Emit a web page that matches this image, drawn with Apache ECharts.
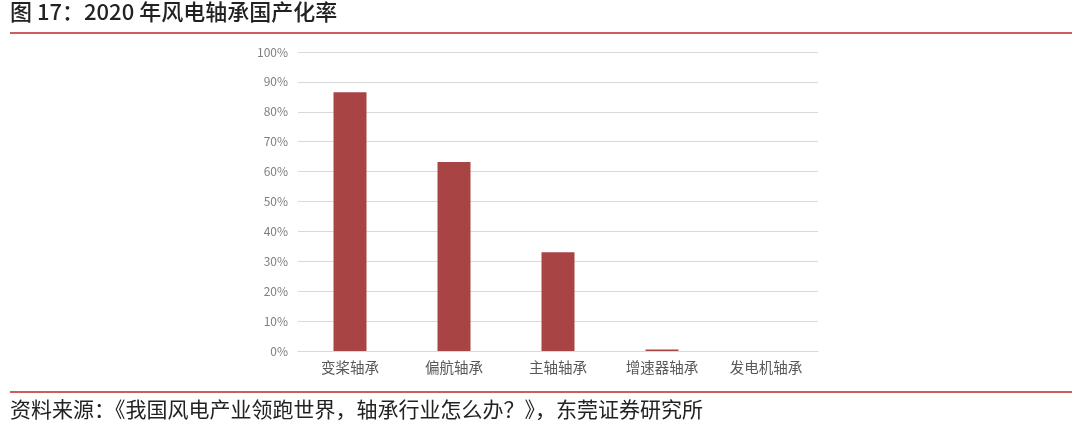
<!DOCTYPE html>
<head>
    <meta charset="utf-8">
    <title>2020 年风电轴承国产化率</title>
    <script src="https://cdn.jsdelivr.net/npm/echarts@6/dist/echarts.min.js"></script>
    <style>
        html, body { margin: 0; padding: 0; background: #fff; }
    </style>
</head>

<body>
    <div id="main" style="width: 1080px; height: 426px;"></div>

    <script type="text/javascript">

        const categories = ['变桨轴承', '偏航轴承', '主轴轴承', '增速器轴承', '发电机轴承']
        const rates = [86.5, 63.2, 33.0, 0.5, 0]
        const yTicks = [0, 10, 20, 30, 40, 50, 60, 70, 80, 90, 100]

        const font = '"Noto Sans CJK SC", "Noto Sans", sans-serif'

        var myChart = echarts.init(document.getElementById('main'));

        option = {
            animation: false,
            backgroundColor: '#fff',
            graphic: [
                {
                    type: 'text',
                    left: 10,
                    top: 1,
                    style: {
                        text: '图 17：2020 年风电轴承国产化率',
                        font: '500 22px ' + font,
                        fill: '#222'
                    }
                },
                {
                    type: 'line',
                    shape: { x1: 10, y1: 33, x2: 1072, y2: 33 },
                    style: { stroke: '#c0262b', lineWidth: 1.5 }
                },
                {
                    type: 'line',
                    shape: { x1: 10, y1: 392, x2: 1072, y2: 392 },
                    style: { stroke: '#c0262b', lineWidth: 1.5 }
                },
                {
                    type: 'text',
                    left: 10,
                    top: 399,
                    style: {
                        text: '资料来源：《我国风电产业领跑世界，轴承行业怎么办？》，东莞证券研究所',
                        font: '21px ' + font,
                        fill: '#222'
                    }
                }
            ],
            grid: {
                left: 298,
                right: 262,
                top: 52,
                bottom: 75
            },
            xAxis: {
                type: 'category',
                data: categories,
                axisTick: { show: false },
                axisLine: { lineStyle: { color: '#d9d9d9', width: 1 } },
                axisLabel: {
                    color: '#595959',
                    fontSize: 14.5,
                    fontFamily: font,
                    margin: 9
                }
            },
            yAxis: {
                type: 'value',
                min: yTicks[0],
                max: yTicks[yTicks.length - 1],
                interval: 10,
                axisLine: { show: false },
                axisTick: { show: false },
                splitLine: { lineStyle: { color: '#d9d9d9', width: 1 } },
                axisLabel: {
                    color: '#7f7f7f',
                    fontSize: 12,
                    fontFamily: font,
                    margin: 10,
                    formatter: v => v + '%'
                }
            },
            series: [
                {
                    type: 'bar',
                    data: rates,
                    barWidth: 33,
                    itemStyle: { color: '#a84444' }
                }
            ]
        };

        myChart.setOption(option);
    </script>
</body>
